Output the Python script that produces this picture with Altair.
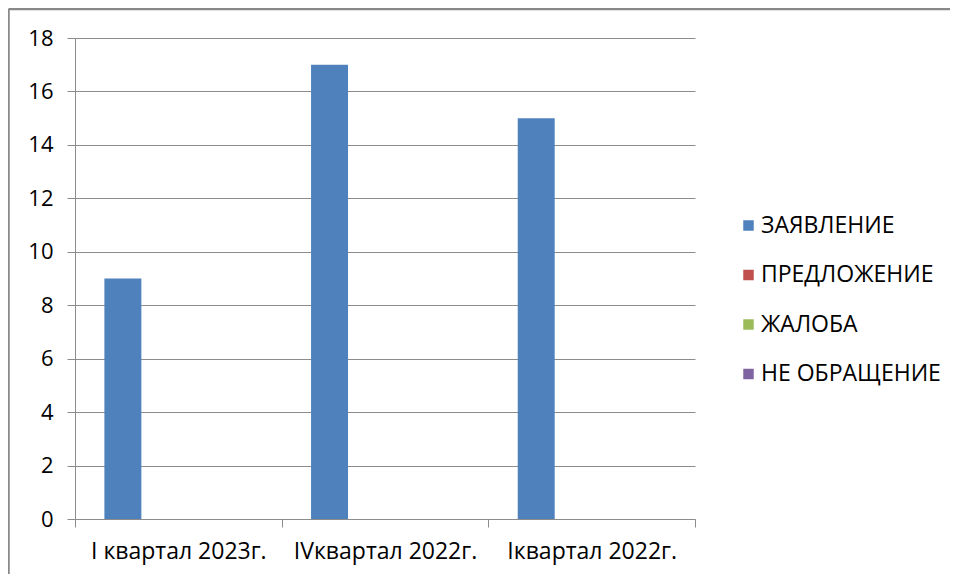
import altair as alt
import pandas as pd

categories = ["I квартал 2023г.", "IVквартал 2022г.", "Iквартал 2022г."]
series = ["ЗАЯВЛЕНИЕ", "ПРЕДЛОЖЕНИЕ", "ЖАЛОБА", "НЕ ОБРАЩЕНИЕ"]
values = {
    "ЗАЯВЛЕНИЕ": [9, 17, 15],
    "ПРЕДЛОЖЕНИЕ": [0, 0, 0],
    "ЖАЛОБА": [0, 0, 0],
    "НЕ ОБРАЩЕНИЕ": [0, 0, 0],
}
colors = ["#4F81BD", "#C0504D", "#9BBB59", "#8064A2"]

rows = []
for s in series:
    for c, v in zip(categories, values[s]):
        rows.append({"cat": c, "series": s, "value": v})
df = pd.DataFrame(rows)

FONT = "Open Sans"
GRAY = "#8c8c8c"

bars = alt.Chart(df).mark_bar().encode(
    x=alt.X("cat:N", sort=categories, title=None,
            scale=alt.Scale(paddingInner=0, paddingOuter=0),
            axis=alt.Axis(labelAngle=0, tickBand="extent", tickSize=8,
                          labelPadding=13, labelFontSize=23, labelFont=FONT,
                          labelColor="#000000", domainColor=GRAY, tickColor=GRAY,
                          labelLimit=0, grid=False)),
    xOffset=alt.XOffset("series:N", sort=series,
                        scale=alt.Scale(paddingInner=0, paddingOuter=0.795)),
    y=alt.Y("value:Q", title=None,
            scale=alt.Scale(domain=[0, 18]),
            axis=alt.Axis(values=list(range(0, 19, 2)), tickSize=8,
                          labelPadding=14, labelFontSize=22, labelFont=FONT,
                          labelColor="#000000", domainColor=GRAY, tickColor=GRAY,
                          gridColor=GRAY, grid=True)),
    color=alt.Color("series:N", sort=series,
                    scale=alt.Scale(domain=series, range=colors),
                    legend=alt.Legend(title=None, orient="none", legendX=662, legendY=176,
                                      symbolType="square", symbolSize=110,
                                      symbolStrokeWidth=0, labelFontSize=23,
                                      labelFont=FONT, labelColor="#000000",
                                      labelLimit=0, rowPadding=25.5, labelOffset=1)),
)

frame_df = alt.Data(values=[{"a": 1}])
left_line = alt.Chart(frame_df).mark_rule(color="#888888", strokeWidth=2.5).encode(
    x=alt.value(-66.5), y=alt.value(-29), y2=alt.value(620))
top_line = alt.Chart(frame_df).mark_rule(color="#888888", strokeWidth=2.5).encode(
    x=alt.value(-66.5), x2=alt.value(1000), y=alt.value(-29))

chart = alt.layer(bars, left_line, top_line).properties(
    width=620, height=481,
    autosize=alt.AutoSizeParams(type="none"),
    padding={"left": 67, "top": 30, "right": 255, "bottom": 55},
).configure_view(stroke=None)

chart.save("out.html", embed_options={"renderer": "svg", "actions": False})
